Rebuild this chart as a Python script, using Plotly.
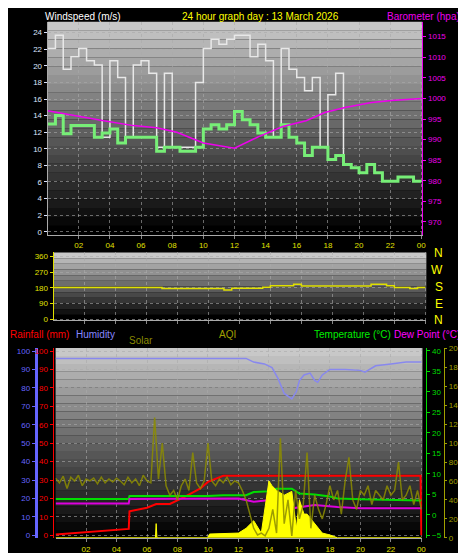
import plotly.graph_objects as go

# ---- data ----
# wind, half-hour steps starting 00:00
wind_gust = [22.1, 23.7, 19.6, 21.1, 22.1, 20.6, 20.1, 11.4, 20.6, 18.6, 11.4, 20.1,
             20.6, 19.1, 10.2, 19.1, 10.2, 10.2, 10.2, 18.0, 22.1, 23.2, 22.6, 23.2,
             23.7, 23.7, 21.1, 22.6, 20.6, 11.4, 22.1, 19.6, 18.6, 17.0, 18.6, 10.2,
             16.5, 19.1, 8.1, 7.7, 7.1, 8.1, 7.1, 6.1, 6.1, 6.6, 6.6, 6.1]
wind_avg = [13.0, 14.0, 11.8, 12.8, 12.8, 12.8, 11.4, 11.9, 12.4, 10.7, 11.4, 11.4,
            11.4, 11.4, 9.7, 10.2, 10.2, 9.7, 9.7, 10.2, 12.4, 12.9, 12.4, 12.9,
            14.5, 13.5, 12.9, 11.9, 11.4, 11.4, 12.9, 11.4, 10.7, 9.2, 10.2, 10.2,
            8.7, 9.2, 8.1, 7.7, 7.1, 8.1, 7.1, 6.1, 6.1, 6.6, 6.6, 6.1]
baro_hours = [0, 1.7, 3.6, 5.5, 7.0, 8.3, 10.0, 12.0, 13.6, 15.1, 16.6, 17.8, 19.1, 20.8, 22.1, 24.0]
baro = [997.0, 995.8, 994.6, 993.4, 992.9, 991.8, 989.2, 987.9, 990.8, 993.2, 994.6,
        996.6, 997.8, 999.0, 999.5, 1000.0]

dir_hours = [0, 7, 11, 11.5, 13.5, 14, 15.5, 16, 20.5, 21.5, 22, 23, 23.5, 24]
wind_dir = [182, 177, 168, 178, 183, 192, 200, 190, 200, 192, 182, 177, 182, 182]

hum_hours = [0, 12, 12.5, 13, 13.7, 14.2, 14.6, 15, 15.5, 15.8, 16, 16.3, 16.7, 17, 17.2,
             17.5, 18, 19, 20, 20.3, 21, 22, 23, 24]
humidity = [96, 96, 96, 94, 93, 91, 85, 77, 74, 78, 84, 87, 88, 84, 83, 87, 90, 90, 89.5,
            88.5, 92, 93, 94, 94]

temp_hours = [0, 4.8, 4.85, 10, 11, 12.5, 13, 14, 14.5, 15.5, 16, 17, 18, 18.5, 20, 24]
temperature = [3.9, 3.9, 4.6, 4.6, 4.8, 4.8, 5.6, 5.8, 6.4, 6.4, 5.2, 5.0, 4.5, 4.0, 3.8, 3.5]
dew_hours = [0, 4.8, 4.85, 10, 11, 12, 13, 14.5, 15.5, 17, 18.5, 20, 24]
dewpoint = [2.8, 2.8, 3.9, 3.9, 4.0, 4.0, 3.2, 3.8, 1.6, 2.4, 1.9, 1.6, 1.6]

rain_hours = [0, 4.8, 4.85, 6, 6.6, 7.5, 8.5, 9.5, 10, 11, 23.95, 24]
rainfall = [0.5, 3.5, 13, 15, 17, 17, 21, 25.5, 29, 32.3, 32.3, 0]

solar_hours = [0, 6.55, 6.6, 6.65, 10, 10.1, 12, 12.5, 13, 13.5, 14, 14.2, 14.5, 15, 15.5,
               15.8, 16, 16.3, 16.5, 17, 17.5, 18, 18.5, 24]
solar = [0, 0, 15, 0, 0, 4, 5, 10, 18, 5, 60, 55, 50, 45, 49, 10, 40, 25, 25, 15, 5, 3, 0, 0]

aqi = [63, 58, 65, 52, 64, 60, 66, 55, 62,
       60, 63, 57, 64, 58, 62, 59, 63,
       60, 56, 64, 58, 62, 55, 66, 60,
       58, 127, 62, 100, 55, 45, 50, 40,
       55, 62, 50, 90, 58, 52, 60, 100,
       60, 55, 62, 58, 64, 56, 60, 58,
       50, 40, 25, 10, 3, 5, 2, 10,
       30, 5, 105, 15, 40, 2, 50, 20,
       35, 90, 10, 45, 30, 20, 35, 55,
       40, 50, 25, 60, 85, 40, 30, 50,
       45, 55, 35, 50, 45, 40, 55, 45,
       50, 80, 40, 45, 55, 35, 50, 30]

hour_ticks = list(range(2, 25, 2))
hour_labels = ['%02d' % (h % 24) for h in hour_ticks]

FONT = 'Liberation Sans'
W, H = 466, 553

step_x = [i * 0.5 for i in range(len(wind_gust))] + [24]
aqi_x = [i * 0.25 for i in range(len(aqi))]

fig = go.Figure()


def line(x, y, color, width, xa, ya, **kw):
    fig.add_trace(go.Scatter(x=x, y=y, mode='lines', line=dict(color=color, width=width),
                             xaxis=xa, yaxis=ya, **kw))


# top panel
line(step_x, wind_gust + wind_gust[-1:], '#e8e8e8', 1.5, 'x', 'y', line_shape='hv')
line(step_x, wind_avg + wind_avg[-1:], '#77ee77', 3, 'x', 'y', line_shape='hv')
line(baro_hours, baro, '#ee00ee', 1.5, 'x', 'y2')
# middle panel
line(dir_hours, wind_dir, '#e0e000', 1.5, 'x2', 'y3', line_shape='hv')
# bottom panel
line(solar_hours, solar, '#ffff00', 1, 'x3', 'y7', fill='tozeroy', fillcolor='#ffff00')
line(hum_hours, humidity, '#8888ee', 1.5, 'x3', 'y4')
line(rain_hours, rainfall, '#ff0000', 2, 'x3', 'y5')
line(temp_hours, temperature, '#00dd00', 2, 'x3', 'y6')
line(dew_hours, dewpoint, '#dd00dd', 2, 'x3', 'y6')
line(aqi_x, aqi, 'rgba(140,140,0,0.85)', 1.5, 'x3', 'y7')


# gradient backgrounds
def gradient(x0, x1, y0, y1, n=24):
    for k in range(n):
        g = int(200 - 200 * k / (n - 1))
        fig.add_shape(type='rect', xref='paper', yref='paper', layer='below',
                      x0=x0 / W, x1=x1 / W,
                      y0=1 - (y0 + (y1 - y0) * (k + 1) / n) / H,
                      y1=1 - (y0 + (y1 - y0) * k / n) / H,
                      line_width=0, fillcolor='rgb(%d,%d,%d)' % (g, g, g))


gradient(40, 418, 10, 226)
gradient(46, 422, 244, 313, 12)
gradient(48, 418, 341, 534)

grid = dict(showgrid=True, gridcolor='rgba(170,170,170,0.6)', griddash='dot', gridwidth=1)
tickf = dict(family=FONT, size=8)


def xax(dom, anchor, labels=True):
    return dict(domain=dom, anchor=anchor, range=[0, 24.07], tickvals=hour_ticks,
                ticktext=hour_labels, showticklabels=labels, ticks='outside', ticklen=3,
                tickcolor='#888', tickfont=dict(tickf, color='#e0e000'), zeroline=False,
                showline=True, linecolor='#aaa', **grid)


def yax(dom, rng, vals, color, **kw):
    d = dict(domain=dom, range=rng, tickvals=vals, tickfont=dict(tickf, color=color),
             ticks='outside', ticklen=3, tickcolor=color, zeroline=False,
             showline=True, linecolor=color, showgrid=False)
    d.update(kw)
    return d


top = [1 - 226 / H, 1 - 10 / H]
mid = [1 - 313 / H, 1 - 244 / H]
bot = [1 - 534 / H, 1 - 341 / H]

fig.update_layout(
    width=W, height=H, margin=dict(l=0, r=0, t=0, b=0),
    paper_bgcolor='black', plot_bgcolor='rgba(0,0,0,0)', showlegend=False,
    font=dict(family=FONT, size=10, color='white'),
    xaxis=xax([40 / W, 418 / W], 'y'),
    xaxis2=xax([46 / W, 422 / W], 'y3', labels=False),
    xaxis3=xax([48 / W, 418 / W], 'y4'),
    yaxis=yax(top, [-0.36, 25.3], list(range(0, 25, 2)), '#dde4ff', linecolor='#aaa',
              showgrid=True, gridcolor='rgba(170,170,170,0.6)', griddash='dot'),
    yaxis2=yax(top, [966.9, 1018.6], list(range(970, 1016, 5)), '#ee00ee',
               overlaying='y', side='right', anchor='x'),
    yaxis3=yax(mid, [-6, 382], [0, 90, 180, 270, 360], '#e0e000', anchor='x2',
               showgrid=True, gridcolor='rgba(170,170,170,0.6)', griddash='dot'),
    yaxis4=yax(bot, [-1.6, 101.6], list(range(0, 101, 10)), '#6666ff', anchor='free',
               position=28 / W, showgrid=True, gridcolor='rgba(170,170,170,0.6)',
               griddash='dot', linewidth=3),
    yaxis5=yax(bot, [-1.6, 101.6], list(range(0, 101, 10)), '#ff0000', anchor='free',
               position=45 / W, overlaying='y4'),
    yaxis6=yax(bot, [-5.7, 40.7], list(range(-5, 41, 5)), '#00dd00', anchor='free',
               position=422 / W, overlaying='y4', side='right'),
    yaxis7=yax(bot, [-0.5, 200.3], list(range(0, 201, 20)), '#a0a000', anchor='free',
               position=440 / W, overlaying='y4', side='right', ticklen=2),
)

ann = [
    ('Windspeed (m/s)', 35, 5, 'white', 'left'),
    ('24 hour graph day : 13 March 2026', 255, 5, '#ffff00', 'center'),
    ('Barometer (hpa)', 458, 5, '#ee00ee', 'right'),
    ('Rainfall (mm)', 0, 327, '#ff0000', 'left'),
    ('Humidity', 67, 327, '#8888ff', 'left'),
    ('Solar', 120, 333, '#8a8a00', 'left'),
    ('AQI', 221, 327, '#a0a000', 'center'),
    ('Temperature (°C)', 388, 327, '#00ee00', 'right'),
    ('Dew Point (°C)', 458, 327, '#ff00ff', 'right'),
]
for txt, x, y, c, al in ann:
    fig.add_annotation(text=txt, x=x / W, y=1 - y / H, xref='paper', yref='paper',
                       xanchor=al, yanchor='middle', showarrow=False,
                       font=dict(family=FONT, size=10, color=c))
for i, t in enumerate(['N', 'W', 'S', 'E', 'N']):
    fig.add_annotation(text=t, x=441 / W, y=1 - (245 + 17 * i) / H, xref='paper',
                       yref='paper', showarrow=False,
                       font=dict(family=FONT, size=12, color='#ffff00'))

fig.write_html("out.html")
